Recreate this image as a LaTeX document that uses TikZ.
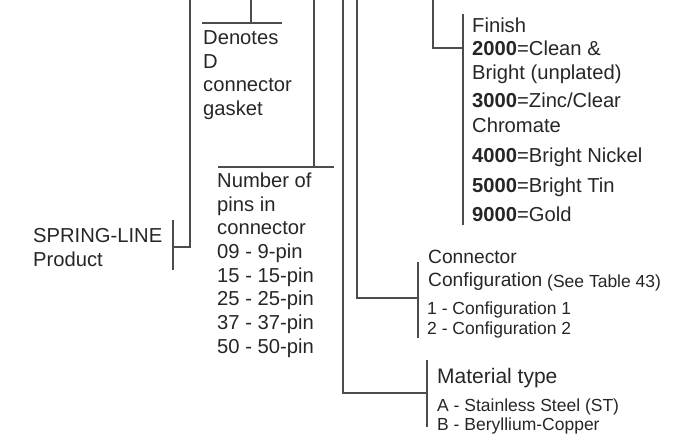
\documentclass[tikz,border=0pt]{standalone}
\usepackage{fontspec}
\setmainfont{Liberation Sans}
\usetikzlibrary{positioning, calc}

\begin{document}
\begin{tikzpicture}[
        x=1pt, y=-1pt,
        lead/.style={draw=black!70, line width=1.1pt},
        main_text/.style={anchor=north west, inner sep=0pt, align=left, text=black!85,
                          font=\fontsize{20.2}{23.5}\selectfont},
        small_text/.style={anchor=north west, inner sep=0pt, align=left, text=black!85,
                           font=\fontsize{17.5}{20}\selectfont}
    ]
    \useasboundingbox (0,0) rectangle (686,436);

    % labels
    \node[main_text] (spring_line) at (33,228.5) {SPRING-LINE\\Product};
    \node[main_text] (gasket) at (203,30.5) {Denotes\\D\\connector\\gasket};
    \node[main_text, font=\fontsize{20.2}{23.7}\selectfont] (pins) at (217,172.5) {Number of\\pins in\\connector\\09 - 9-pin\\15 - 15-pin\\25 - 25-pin\\37 - 37-pin\\50 - 50-pin};
    \node[main_text, font=\fontsize{20.2}{24.5}\selectfont] (finish) at (472,17.5) {Finish\\[-1.5pt]\textbf{2000}=Clean \&\\Bright (unplated)\\[3.5pt]\textbf{3000}=Zinc/Clear\\Chromate\\[5.5pt]\textbf{4000}=Bright Nickel\\[5.5pt]\textbf{5000}=Bright Tin\\[4.5pt]\textbf{9000}=Gold};
    \node[main_text, font=\fontsize{19.2}{23}\selectfont] (config) at (428,250) {Connector\\Configuration};
    \node[small_text, anchor=base west] (config_ref) at (547,287) {(See Table 43)};
    \node[small_text] (config_list) at (427,301.5) {1 - Configuration 1\\2 - Configuration 2};
    \node[main_text, font=\fontsize{21}{24}\selectfont] (material) at (437,368.5) {Material type};
    \node[small_text, font=\fontsize{17.5}{18.5}\selectfont] (material_list) at (437,399) {A - Stainless Steel (ST)\\B - Beryllium-Copper};

    % leads from the part number
    \coordinate (prod_top)     at (190,0);
    \coordinate (gasket_top)   at (251,0);
    \coordinate (pins_top)     at (314,0);
    \coordinate (material_top) at (343,0);
    \coordinate (config_top)   at (357,0);
    \coordinate (finish_top)   at (433,0);

    % bars and rules beside the labels
    \coordinate (prod_bar_t)     at (173,220);
    \coordinate (prod_bar_b)     at (173,270);
    \coordinate (gasket_rule_l)  at (202,23);
    \coordinate (gasket_rule_r)  at (282,23);
    \coordinate (pins_rule_l)    at (218,167);
    \coordinate (pins_rule_r)    at (334,167);
    \coordinate (material_bar_t) at (427,360);
    \coordinate (material_bar_b) at (427,427);
    \coordinate (config_bar_t)   at (418,262);
    \coordinate (config_bar_b)   at (418,338);
    \coordinate (finish_bar_t)   at (463,14);
    \coordinate (finish_bar_b)   at (463,225);

    \draw[lead] (prod_bar_t) -- (prod_bar_b);
    \draw[lead] (gasket_rule_l) -- (gasket_rule_r);
    \draw[lead] (pins_rule_l) -- (pins_rule_r);
    \draw[lead] (material_bar_t) -- (material_bar_b);
    \draw[lead] (config_bar_t) -- (config_bar_b);
    \draw[lead] (finish_bar_t) -- (finish_bar_b);

    \draw[lead] (prod_top) |- (prod_bar_t |- 0,247);
    \draw[lead] (gasket_top) -- (gasket_top |- gasket_rule_l);
    \draw[lead] (pins_top) -- (pins_top |- pins_rule_l);
    \draw[lead] (material_top) |- (material_bar_t |- 0,393);
    \draw[lead] (config_top) |- (config_bar_t |- 0,298);
    \draw[lead] (finish_top) |- (finish_bar_t |- 0,48);
\end{tikzpicture}
\end{document}
